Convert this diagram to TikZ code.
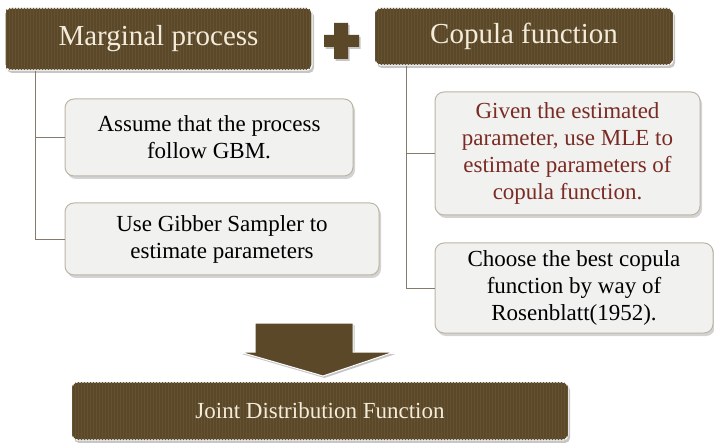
\documentclass[tikz,border=0pt]{standalone}
\usepackage{fontspec}
\setmainfont{Liberation Serif}
\usetikzlibrary{shadows,patterns}

\definecolor{barkbrown}{HTML}{5A4829}
\definecolor{barkstripe}{HTML}{645233}
\definecolor{creamtext}{HTML}{F4ECDA}
\definecolor{stepfill}{HTML}{F1F1F0}
\definecolor{stepedge}{HTML}{BDB5A6}
\definecolor{notered}{HTML}{7A2B24}
\definecolor{linegrey}{HTML}{857B6B}

\tikzset{
  barkfill/.style={fill=barkbrown, postaction={pattern=vertical lines, pattern color=barkstripe}},
  headbox/.style={barkfill, draw=white, line width=1.2pt, rounded corners=5pt,
    drop shadow={shadow xshift=2pt, shadow yshift=-3pt, opacity=0.45},
    text=creamtext, inner sep=0pt},
  notebox/.style={fill=stepfill, draw=stepedge, line width=1pt, rounded corners=9pt,
    drop shadow={shadow xshift=2pt, shadow yshift=-3pt, opacity=0.35},
    align=center, inner sep=0pt, font=\fontsize{23}{27}\selectfont},
  branch/.style={draw=linegrey, line width=0.9pt}
}

\begin{document}
\begin{tikzpicture}[x=1pt, y=-1pt]
\useasboundingbox (0,0) rectangle (714,443);

% Top row: the two parts and the plus between them
\node[headbox, minimum width=307pt, minimum height=62pt, font=\fontsize{29}{33}\selectfont] (marginal) at (158.5, 39) {Marginal process};
\node[headbox, minimum width=298pt, minimum height=57pt, font=\fontsize{29}{33}\selectfont] (copula) at (524, 36.5) {Copula function};
\fill[barkbrown, drop shadow={shadow xshift=1.5pt, shadow yshift=-2pt, opacity=0.45}]
  (334,23) -- (348,23) -- (348,35) -- (359,35) -- (359,47) -- (348,47) -- (348,59)
  -- (334,59) -- (334,47) -- (324,47) -- (324,35) -- (334,35) -- cycle;

% Steps of the marginal process
\node[notebox, minimum width=288pt, minimum height=77pt] (assume) at (209, 137.5) {Assume that the process\\follow GBM.};
\node[notebox, minimum width=314pt, minimum height=72pt] (gibbs) at (222, 239) {Use Gibber Sampler to\\estimate parameters};

% Steps of the copula function
\node[notebox, minimum width=265pt, minimum height=123pt, text=notered] (mle) at (567.5, 153.5) {Given the estimated\\parameter, use MLE to\\estimate parameters of\\copula function.};
\node[notebox, minimum width=278pt, minimum height=90pt] (rosen) at (574, 288) {Choose the best copula\\function by way of\\Rosenblatt(1952).};

% Tree lines
\coordinate (lbus) at (35, 0);
\coordinate (rbus) at (406, 0);
\draw[branch] (lbus |- marginal.south) |- (assume.west);
\draw[branch] (lbus |- marginal.south) |- (gibbs.west);
\draw[branch] (rbus |- copula.south) |- (mle.west);
\draw[branch] (rbus |- copula.south) |- (rosen.west);

% Block arrow and the result
\fill[barkbrown, draw=white, line width=1pt, drop shadow={shadow xshift=1.5pt, shadow yshift=-2pt, opacity=0.45}]
  (255,323) -- (353,323) -- (353,352) -- (394,352) -- (323,376) -- (240,352) -- (255,352) -- cycle;
\node[headbox, minimum width=496pt, minimum height=58pt, font=\fontsize{23}{27}\selectfont] (joint) at (320, 411) {Joint Distribution Function};
\end{tikzpicture}
\end{document}
